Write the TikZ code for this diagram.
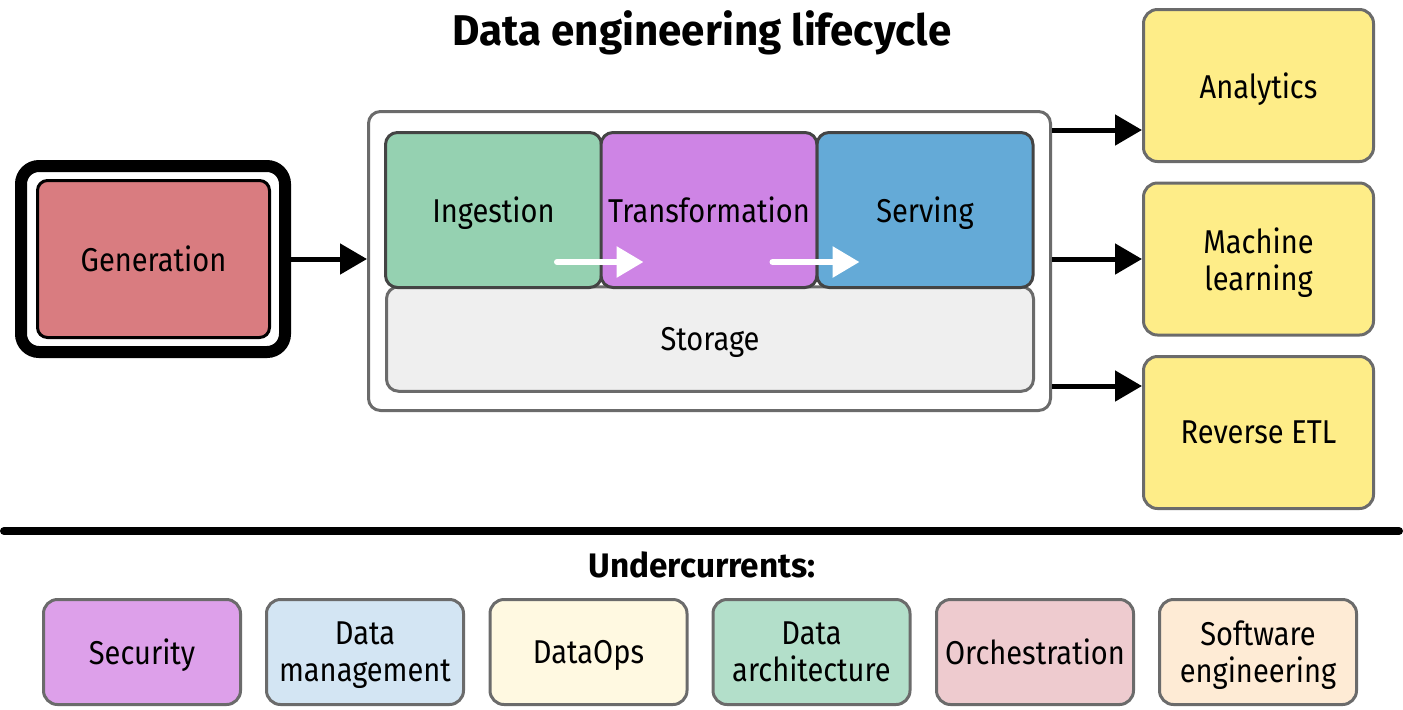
\documentclass[tikz,border=0pt]{standalone}
\usepackage{fontspec}
\setmainfont{Fira Sans}[FakeStretch=0.88]
\newfontfamily\widefont{Fira Sans}[FakeStretch=0.98]
\usetikzlibrary{arrows.meta,calc}
\definecolor{genfill}{HTML}{D97C80}
\definecolor{ingfill}{HTML}{95D1B1}
\definecolor{trafill}{HTML}{CE84E5}
\definecolor{serfill}{HTML}{64AAD7}
\definecolor{stofill}{HTML}{EFEFEF}
\definecolor{yelfill}{HTML}{FEED88}
\definecolor{secfill}{HTML}{DDA0EA}
\definecolor{dmfill}{HTML}{D3E5F3}
\definecolor{dofill}{HTML}{FFF9E1}
\definecolor{dafill}{HTML}{B3DFCA}
\definecolor{orfill}{HTML}{EECBCF}
\definecolor{sefill}{HTML}{FEEBD5}
\definecolor{edgegray}{HTML}{6B6B6B}
\definecolor{edgedark}{HTML}{444444}
\tikzset{
  txt/.style={font=\fontsize{16.5}{18.5}\selectfont, align=center, inner sep=0pt, text depth=0pt},
  stagebox/.style={txt, draw=edgedark, line width=1.5pt, rounded corners=6pt, minimum width=108pt, minimum height=77.5pt},
  outbox/.style={txt, draw=edgegray, fill=yelfill, line width=1.5pt, rounded corners=7pt, minimum width=115pt, minimum height=76pt},
  ucbox/.style={txt, draw=edgegray, line width=1.5pt, rounded corners=7pt, minimum width=98.5pt, minimum height=52.5pt},
  blackarrow/.style={line width=2.5pt, -{Triangle[length=13.5pt,width=15pt]}},
  whitearrow/.style={white, line width=3pt, line cap=round, -{Triangle[length=13.5pt,width=15pt]}},
}
\begin{document}
\begin{tikzpicture}[x=0.5pt,y=-0.5pt]
\useasboundingbox (0,0) rectangle (1403,709);
% title
\node[font=\widefont\fontsize{21.5}{24}\selectfont\bfseries, anchor=base, inner sep=0pt] (title) at (702,45) {Data engineering lifecycle};
% generation
\node[draw=black, line width=6pt, rounded corners=9pt, minimum width=132pt, minimum height=93pt] (genframe) at (153,259) {};
\node[txt, draw=black, fill=genfill, line width=1.5pt, rounded corners=5pt, minimum width=116pt, minimum height=78.5pt] (gen) at (153.5,259) {Generation};
% container
\node[draw=edgegray, line width=1.5pt, rounded corners=6pt, minimum width=341pt, minimum height=149.5pt] (cont) at (709.5,261) {};
\node[txt, draw=edgegray, fill=stofill, line width=1.5pt, rounded corners=6pt, minimum width=323.5pt, minimum height=52.25pt] (sto) at (710,339) {Storage};
\node[stagebox, fill=ingfill] (ing) at (493.5,210) {Ingestion};
\node[stagebox, fill=trafill] (tra) at (709,210) {Transformation};
\node[stagebox, fill=serfill] (ser) at (925,210) {Serving};
\draw[whitearrow] ([xshift=-23pt,yshift=-26pt]ing.east) -- ([xshift=22pt,yshift=-26pt]tra.west);
\draw[whitearrow] ([xshift=-23pt,yshift=-26pt]tra.east) -- ([xshift=22pt,yshift=-26pt]ser.west);
% outputs
\node[outbox] (ana) at (1258.5,85.5) {Analytics};
\node[outbox] (ml) at (1258.5,259) {Machine\\learning};
\node[outbox] (retl) at (1258.5,432.5) {Reverse ETL};
% arrows
\draw[blackarrow] (genframe.east) -- (genframe.east -| cont.west);
\draw[blackarrow] ([yshift=-22.25pt]ana.west -| cont.east) -- ([yshift=-22.25pt]ana.west);
\draw[blackarrow] (ml.west -| cont.east) -- (ml.west);
\draw[blackarrow] ([yshift=23.25pt]retl.west -| cont.east) -- ([yshift=23.25pt]retl.west);
% divider
\coordinate (ruleL) at (4,531);
\coordinate (ruleR) at (1399,531);
\draw[line width=4pt, line cap=round] (ruleL) -- (ruleR);
% undercurrents
\node[font=\widefont\fontsize{17}{19}\selectfont\bfseries, anchor=base, inner sep=0pt] (uc) at (702,577) {Undercurrents:};
\node[ucbox, fill=secfill] (sec) at (142,652) {Security};
\node[ucbox, fill=dmfill] (dm) at (365,652) {Data\\management};
\node[ucbox, fill=dofill] (dops) at (588.5,652) {DataOps};
\node[ucbox, fill=dafill] (darch) at (811.5,652) {Data\\architecture};
\node[ucbox, fill=orfill] (orch) at (1035,652) {Orchestration};
\node[ucbox, fill=sefill] (swe) at (1258,652) {Software\\engineering};
\end{tikzpicture}
\end{document}
